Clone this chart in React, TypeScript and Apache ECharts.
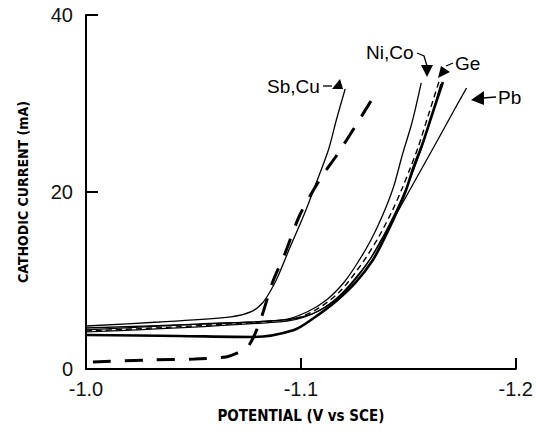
import React, { useEffect, useRef } from "react";
import * as echarts from "echarts";

// Potential (V vs SCE) and cathodic current (mA)
const sbV = [-1.0, -1.034, -1.0674, -1.0775, -1.0821, -1.0853, -1.089, -1.095, -1.1018, -1.1064, -1.1128, -1.1165, -1.1206];
const sbI = [4.86, 5.31, 5.88, 6.55, 7.46, 8.59, 10.28, 13.78, 17.63, 20.56, 24.75, 28.14, 31.64];

const cuV = [-1.0032, -1.0294, -1.0505, -1.0651, -1.0706, -1.0748, -1.078, -1.0817, -1.0867, -1.0927, -1.0995, -1.1087, -1.1174, -1.1257, -1.1349];
const cuI = [0.79, 1.02, 1.13, 1.36, 1.81, 2.37, 3.62, 5.88, 9.72, 13.11, 17.4, 21.36, 24.41, 27.57, 31.19];

const niV = [-1.0, -1.0523, -1.0917, -1.1028, -1.1119, -1.1202, -1.1266, -1.1326, -1.1381, -1.1431, -1.1472, -1.1514, -1.1537, -1.156];
const niI = [4.41, 5.08, 5.54, 6.44, 7.8, 9.83, 12.09, 14.58, 17.4, 20.56, 24.18, 27.57, 29.83, 32.32];

const coV = [-1.0, -1.0936, -1.1083, -1.1202, -1.1307, -1.1381, -1.1445, -1.1491, -1.1528, -1.1564, -1.161, -1.1651];
const coI = [4.18, 5.42, 6.55, 8.7, 11.86, 14.92, 17.97, 20.45, 22.71, 25.2, 28.7, 32.2];

const geDashV = [-1.0, -1.0936, -1.106, -1.1179, -1.1289, -1.1362, -1.1427, -1.1472, -1.1509, -1.1546, -1.1592, -1.1642];
const geDashI = [4.29, 5.54, 6.55, 8.7, 12.09, 14.92, 17.97, 20.45, 22.71, 25.08, 28.59, 32.43];

const geV = [-1.0, -1.0431, -1.078, -1.0968, -1.106, -1.1165, -1.1257, -1.1335, -1.1385, -1.1436, -1.1486, -1.1523, -1.1564, -1.161, -1.1661];
const geI = [3.84, 3.73, 3.62, 4.41, 5.76, 7.68, 9.83, 12.32, 14.58, 17.17, 20.0, 22.71, 25.31, 28.7, 32.43];

const pbV = [-1.0, -1.0523, -1.0927, -1.105, -1.1133, -1.1197, -1.1266, -1.1335, -1.1408, -1.1486, -1.1564, -1.1647, -1.1716, -1.1771];
const pbI = [4.63, 5.08, 5.54, 6.21, 7.34, 8.7, 10.62, 12.88, 15.93, 19.32, 22.71, 26.33, 29.38, 31.75];

const xTicks = [-1.0, -1.1, -1.2];
const yTicks = [0, 20, 40];

const zip = (xs: number[], ys: number[]) => xs.map((x, i) => [x, ys[i]]);

const LABEL_FONT = "'Liberation Sans', Arial, sans-serif";
const TITLE_FONT = "'Liberation Sans Narrow', 'DejaVu Sans Condensed', 'Liberation Sans', sans-serif";

export default function App() {
  const ref = useRef<HTMLDivElement>(null);

  useEffect(() => {
    if (!ref.current) return;
    const chart = echarts.init(ref.current, undefined, { renderer: "svg" });

    const line = (name: string, xs: number[], ys: number[], width: number, type: any) => ({
      name,
      type: "line",
      data: zip(xs, ys),
      showSymbol: false,
      symbol: "none",
      smooth: 0.3,
      lineStyle: { color: "#000", width, type, cap: "butt" },
      z: 3,
    });

    const txt = (text: string, x: number, y: number) => ({
      type: "text",
      x,
      y,
      style: {
        text,
        font: `19px ${LABEL_FONT}`,
        fontFamily: LABEL_FONT,
        fontSize: 19,
        fill: "#000",
        textAlign: "left",
        textVerticalAlign: "middle",
      },
    });
    const tri = (pts: number[][]) => ({ type: "polygon", shape: { points: pts }, style: { fill: "#000" } });
    const seg = (pts: number[][]) => ({ type: "polyline", shape: { points: pts }, style: { stroke: "#000", lineWidth: 1.3, fill: null } });

    chart.setOption({
      animation: false,
      backgroundColor: "#fff",
      grid: { left: 86, right: 13, top: 15, bottom: 63 },
      xAxis: {
        type: "value",
        inverse: true,
        min: xTicks[2],
        max: xTicks[0],
        interval: 0.1,
        name: "POTENTIAL (V vs SCE)",
        nameLocation: "middle",
        nameGap: 39,
        nameTextStyle: { fontFamily: TITLE_FONT, fontSize: 15, fontWeight: "bold", color: "#000" },
        axisLine: { onZero: false, lineStyle: { color: "#000", width: 2 } },
        axisTick: { inside: true, length: 11, lineStyle: { color: "#000", width: 2 } },
        axisLabel: {
          margin: 10,
          fontFamily: LABEL_FONT,
          fontSize: 20,
          color: "#111",
          formatter: (v: number) => v.toFixed(1),
        },
        splitLine: { show: false },
      },
      yAxis: {
        type: "value",
        min: yTicks[0],
        max: yTicks[2],
        interval: 20,
        name: "CATHODIC CURRENT (mA)",
        nameLocation: "middle",
        nameRotate: 90,
        nameGap: 56,
        nameTextStyle: { fontFamily: TITLE_FONT, fontSize: 14, fontWeight: "bold", color: "#000" },
        axisLine: { show: true, onZero: false, lineStyle: { color: "#000", width: 2 } },
        axisTick: { inside: true, length: 12, lineStyle: { color: "#000", width: 2 } },
        axisLabel: { margin: 13, fontFamily: LABEL_FONT, fontSize: 20, color: "#111" },
        splitLine: { show: false },
      },
      series: [
        line("Sb", sbV, sbI, 1.3, "solid"),
        line("Cu", cuV, cuI, 3, [18, 14]),
        line("Ni", niV, niI, 1.3, "solid"),
        line("Co", coV, coI, 1.2, "solid"),
        line("Ge dashed", geDashV, geDashI, 1.4, [6, 4]),
        line("Ge", geV, geI, 2.6, "solid"),
        line("Pb", pbV, pbI, 1.3, "solid"),
      ],
      graphic: [
        txt("Sb,Cu", 267, 86),
        seg([[323, 86], [332, 86]]),
        tri([[332, 89], [343, 89], [340, 79]]),
        txt("Ni,Co", 366, 52),
        seg([[417, 53], [424, 56], [427, 66]]),
        tri([[421, 65], [433, 65], [427, 77]]),
        txt("Ge", 455, 63),
        seg([[453, 63], [446, 66]]),
        tri([[438, 78], [441, 66], [450, 72]]),
        txt("Pb", 498, 97),
        seg([[496, 97], [483, 98]]),
        tri([[471, 100], [484, 91], [484, 105]]),
      ],
    });

    return () => chart.dispose();
  }, []);

  return (
    <div
      ref={ref}
      style={{ position: "absolute", left: 0, top: 0, width: 536, height: 432, background: "#fff" }}
    />
  );
}
